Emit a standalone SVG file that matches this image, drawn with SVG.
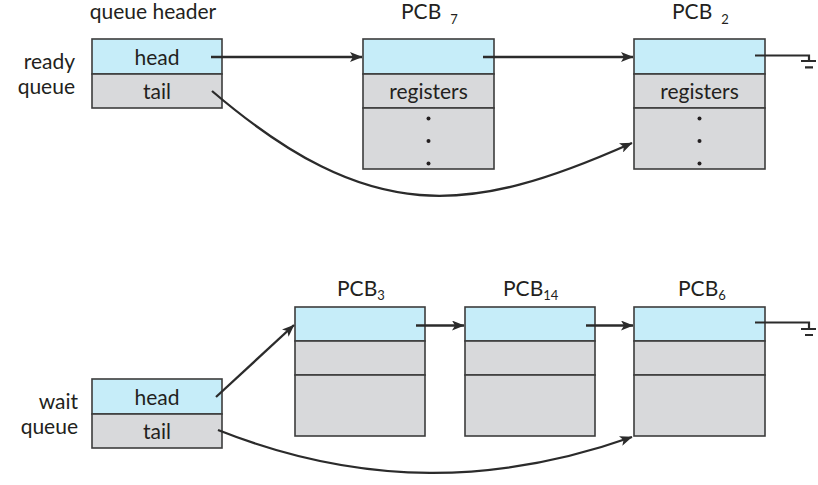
<svg xmlns="http://www.w3.org/2000/svg" width="818" height="485" viewBox="0 0 818 485">
<style>
text{font-family:Lato,"Open Sans","Liberation Sans",sans-serif;fill:#231f20;font-size:21px}
.c{text-anchor:middle}
.r{text-anchor:end}
.sub{font-size:13px}
.blue{fill:#c6edf9;stroke:#3c3c3c;stroke-width:1.6}
.gray{fill:#d8d9db;stroke:#3c3c3c;stroke-width:1.6}
.ln{fill:none;stroke:#2b2b2b;stroke-width:2.3}
.gnd{fill:none;stroke:#2b2b2b;stroke-width:2.2}
.dot{fill:#231f20}
</style>
<defs>
<marker id="ah" markerUnits="userSpaceOnUse" markerWidth="14" markerHeight="10" refX="12" refY="5" orient="auto" viewBox="0 0 14 10">
<path d="M0,0 L12.5,5 L0,10 L3,5 z" fill="#2b2b2b"/>
</marker>
</defs>

<text class="c" x="153" y="19">queue header</text>
<text class="r" x="75" y="69">ready</text>
<text class="r" x="75" y="94">queue</text>
<text class="r" x="78" y="409">wait</text>
<text class="r" x="78" y="434">queue</text>

<g id="ready-header">
<rect class="blue" x="92" y="39" width="130" height="35"/>
<rect class="gray" x="92" y="74" width="130" height="34"/>
<text class="c" x="157" y="65">head</text>
<text class="c" x="157" y="99">tail</text>
</g>

<g id="pcb7">
<text x="401" y="19">PCB<tspan class="sub" dx="9" dy="5">7</tspan></text>
<rect class="blue" x="363" y="39" width="131" height="35"/>
<rect class="gray" x="363" y="74" width="131" height="34"/>
<rect class="gray" x="363" y="108" width="131" height="61"/>
<text class="c" x="428.5" y="99">registers</text>
<circle class="dot" cx="428.5" cy="118.5" r="2"/>
<circle class="dot" cx="428.5" cy="141" r="2"/>
<circle class="dot" cx="428.5" cy="163.5" r="2"/>
</g>

<g id="pcb2">
<text x="672" y="19">PCB<tspan class="sub" dx="9" dy="5">2</tspan></text>
<rect class="blue" x="634" y="39" width="131" height="35"/>
<rect class="gray" x="634" y="74" width="131" height="34"/>
<rect class="gray" x="634" y="108" width="131" height="61"/>
<text class="c" x="699.5" y="99">registers</text>
<circle class="dot" cx="699.5" cy="118.5" r="2"/>
<circle class="dot" cx="699.5" cy="141" r="2"/>
<circle class="dot" cx="699.5" cy="163.5" r="2"/>
<path class="gnd" d="M755,55.5 H809 V61 M801,61 H816 M805,67.3 H813"/>
</g>

<g id="wait-header">
<rect class="blue" x="92" y="379" width="130" height="35"/>
<rect class="gray" x="92" y="414" width="130" height="34"/>
<text class="c" x="157" y="405">head</text>
<text class="c" x="157" y="439">tail</text>
</g>

<g id="pcb3">
<text x="337" y="296">PCB<tspan class="sub" dy="4">3</tspan></text>
<rect class="blue" x="295" y="307" width="130" height="34"/>
<rect class="gray" x="295" y="341" width="130" height="34"/>
<rect class="gray" x="295" y="375" width="130" height="61"/>
</g>

<g id="pcb14">
<text x="503" y="296">PCB<tspan class="sub" dy="4">14</tspan></text>
<rect class="blue" x="465" y="307" width="130" height="34"/>
<rect class="gray" x="465" y="341" width="130" height="34"/>
<rect class="gray" x="465" y="375" width="130" height="61"/>
</g>

<g id="pcb6">
<text x="678" y="296">PCB<tspan class="sub" dy="4">6</tspan></text>
<rect class="blue" x="634" y="307" width="131" height="34"/>
<rect class="gray" x="634" y="341" width="131" height="34"/>
<rect class="gray" x="634" y="375" width="131" height="61"/>
<path class="gnd" d="M755,322.5 H809 V329 M801,329 H816 M805,335 H813"/>
</g>

<g id="connectors">
<path class="ln" d="M211,57 H362" marker-end="url(#ah)"/>
<path class="ln" d="M483,57 H633" marker-end="url(#ah)"/>
<path class="ln" d="M212,91 C370,226 468,216 632,143" marker-end="url(#ah)"/>
<path class="ln" d="M216,397 L294,325" marker-end="url(#ah)"/>
<path class="ln" d="M416,325.5 H464" marker-end="url(#ah)"/>
<path class="ln" d="M586,325.5 H633" marker-end="url(#ah)"/>
<path class="ln" d="M218,430 C364,488 499,484 632,437" marker-end="url(#ah)"/>
</g>
</svg>
